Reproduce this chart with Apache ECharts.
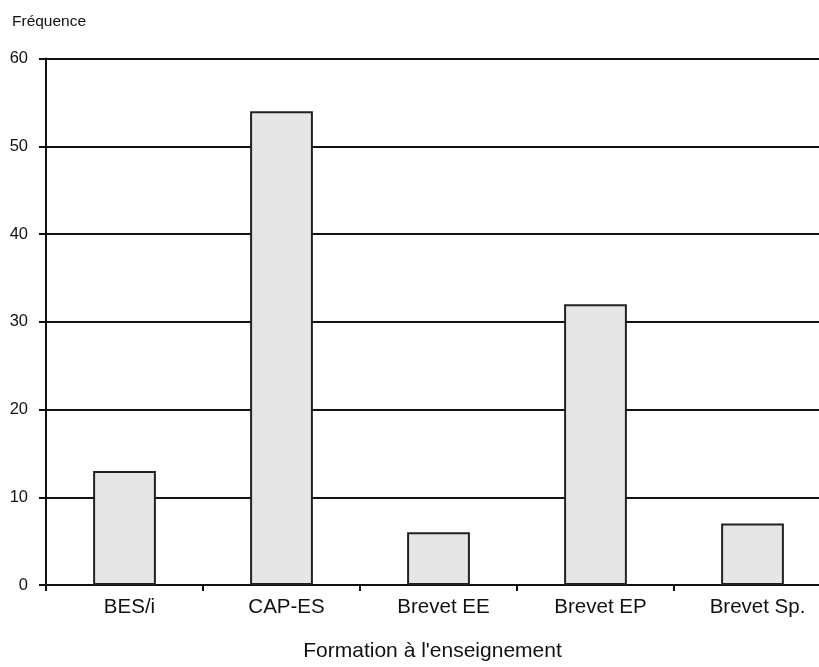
<!DOCTYPE html>
<html>
<head>
<meta charset="utf-8">
<script src="https://cdn.jsdelivr.net/npm/echarts@6/dist/echarts.min.js"></script>
<style>
html,body{margin:0;padding:0;background:#fff;overflow:hidden;width:819px;height:667px;}
#c{width:831px;height:667px;}
</style>
</head>
<body>
<div id="c"></div>
<script>
var categories = ["BES/i", "CAP-ES", "Brevet EE", "Brevet EP", "Brevet Sp."];
var values = [13, 54, 6, 32, 7];
var yTicks = [0, 10, 20, 30, 40, 50, 60];

var chart = echarts.init(document.getElementById('c'), null, {renderer: 'canvas'});
var font = "'Liberation Sans', Arial, sans-serif";
chart.setOption({
  animation: false,
  backgroundColor: '#ffffff',
  grid: {left: 46, top: 58.5, right: 0, bottom: 77.5, containLabel: false},
  graphic: [{
    type: 'text', left: 12, top: 14,
    style: {text: 'Fréquence', font: "15.5px " + font, fill: '#111'}
  }],
  xAxis: {
    type: 'category',
    data: categories,
    name: "Formation à l'enseignement",
    nameLocation: 'middle',
    nameGap: 56,
    nameTextStyle: {fontFamily: font, fontSize: 21, color: '#111', padding: [0, 12, 0, 0]},
    axisLine: {show: true, lineStyle: {color: '#111', width: 2}},
    axisTick: {show: true, length: 6, lineStyle: {color: '#111', width: 2}},
    axisLabel: {fontFamily: font, fontSize: 20.5, color: '#111', margin: 12, padding: [0, 0, 0, 10]},
    splitLine: {show: false}
  },
  yAxis: {
    type: 'value',
    min: yTicks[0],
    max: yTicks[yTicks.length - 1],
    interval: 10,
    axisLine: {show: true, lineStyle: {color: '#111', width: 2}},
    axisTick: {show: true, length: 7, lineStyle: {color: '#111', width: 2}},
    axisLabel: {fontFamily: font, fontSize: 16.5, color: '#111', margin: 18},
    splitLine: {show: true, lineStyle: {color: '#111', width: 2}}
  },
  series: [{
    type: 'bar',
    data: values,
    barWidth: '40%',
    itemStyle: {color: '#e6e6e6', borderColor: '#222', borderWidth: 2}
  }]
});
</script>
</body>
</html>
